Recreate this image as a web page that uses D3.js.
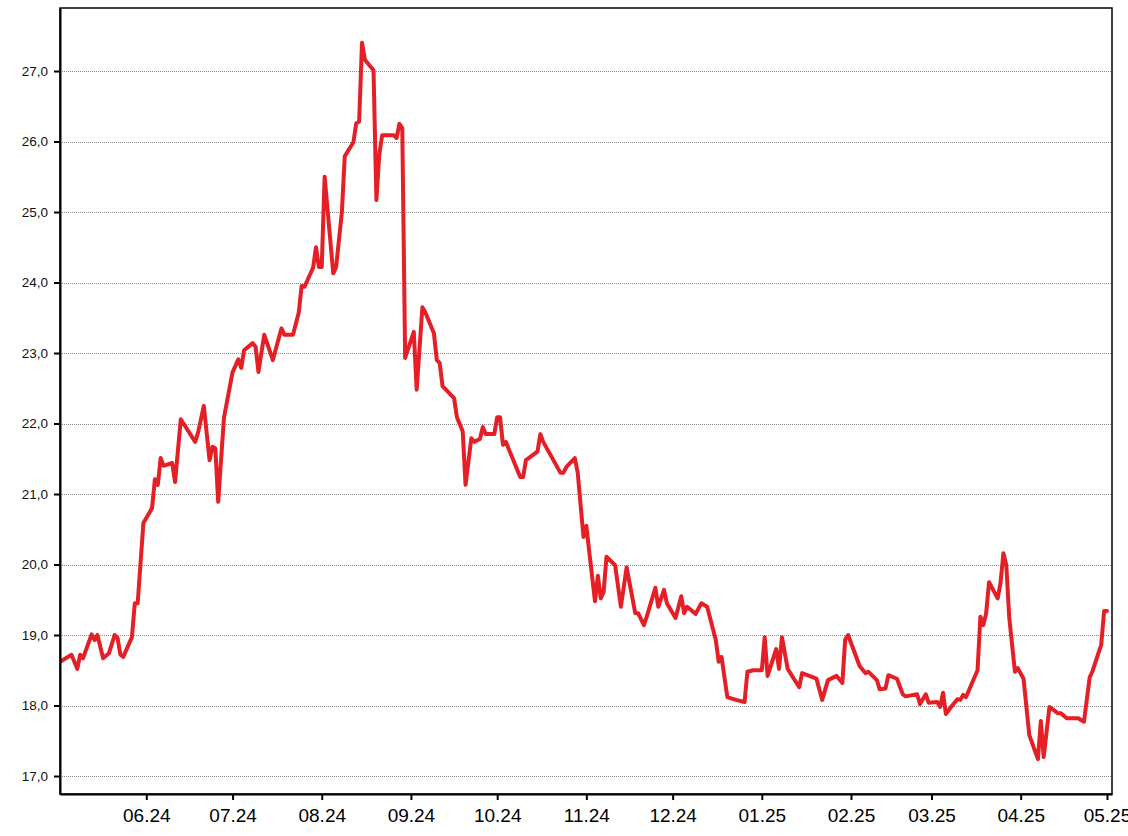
<!DOCTYPE html>
<html>
<head>
<meta charset="utf-8">
<script src="https://cdn.jsdelivr.net/npm/d3@7"></script>
<style>
  html, body { margin: 0; padding: 0; background: #fff; }
  svg { display: block; }
</style>
</head>
<body>
<svg id="chart" width="1128" height="836"></svg>
<script>
// ---- DATA ----
const dates = [
"2024-05-02","2024-05-06","2024-05-08","2024-05-09","2024-05-10","2024-05-13","2024-05-14","2024-05-15","2024-05-17","2024-05-19",
"2024-05-21","2024-05-22","2024-05-23","2024-05-24","2024-05-27","2024-05-28","2024-05-29","2024-05-31","2024-06-03","2024-06-04",
"2024-06-05","2024-06-06","2024-06-07","2024-06-10","2024-06-11","2024-06-13","2024-06-18","2024-06-19","2024-06-21","2024-06-23",
"2024-06-24","2024-06-25","2024-06-26","2024-06-28","2024-07-01","2024-07-03","2024-07-04","2024-07-05","2024-07-08","2024-07-09",
"2024-07-10","2024-07-12","2024-07-15","2024-07-18","2024-07-19","2024-07-22","2024-07-24","2024-07-25","2024-07-26","2024-07-29",
"2024-07-30","2024-07-31","2024-08-01","2024-08-02","2024-08-05","2024-08-06","2024-08-08","2024-08-09","2024-08-12","2024-08-13",
"2024-08-14","2024-08-15","2024-08-16","2024-08-19","2024-08-20","2024-08-21","2024-08-22","2024-08-26","2024-08-27","2024-08-28",
"2024-08-29","2024-08-30","2024-09-02","2024-09-03","2024-09-05","2024-09-06","2024-09-09","2024-09-10","2024-09-11","2024-09-12",
"2024-09-16","2024-09-17","2024-09-19","2024-09-20","2024-09-22","2024-09-23","2024-09-25","2024-09-26","2024-09-27","2024-09-30",
"2024-10-01","2024-10-02","2024-10-03","2024-10-04","2024-10-09","2024-10-10","2024-10-11","2024-10-13","2024-10-15","2024-10-16",
"2024-10-17","2024-10-20","2024-10-23","2024-10-24","2024-10-25","2024-10-28","2024-10-29","2024-10-31","2024-11-01","2024-11-02",
"2024-11-04","2024-11-05","2024-11-06","2024-11-07","2024-11-08","2024-11-11","2024-11-13","2024-11-15","2024-11-18","2024-11-19",
"2024-11-21","2024-11-22","2024-11-25","2024-11-26","2024-11-28","2024-11-29","2024-12-02","2024-12-04","2024-12-05","2024-12-06",
"2024-12-09","2024-12-11","2024-12-13","2024-12-16","2024-12-17","2024-12-18","2024-12-20","2024-12-23","2024-12-26","2024-12-27",
"2024-12-29","2025-01-01","2025-01-02","2025-01-03","2025-01-06","2025-01-07","2025-01-08","2025-01-10","2025-01-14","2025-01-15",
"2025-01-20","2025-01-22","2025-01-24","2025-01-27","2025-01-29","2025-01-30","2025-01-31","2025-02-04","2025-02-06","2025-02-07",
"2025-02-10","2025-02-11","2025-02-13","2025-02-14","2025-02-17","2025-02-19","2025-02-20","2025-02-24","2025-02-25","2025-02-27",
"2025-02-28","2025-03-03","2025-03-04","2025-03-05","2025-03-06","2025-03-08","2025-03-10","2025-03-11","2025-03-12","2025-03-13",
"2025-03-17","2025-03-18","2025-03-19","2025-03-20","2025-03-21","2025-03-24","2025-03-25","2025-03-26","2025-03-27","2025-03-28",
"2025-03-30","2025-03-31","2025-04-02","2025-04-04","2025-04-07","2025-04-08","2025-04-09","2025-04-11","2025-04-14","2025-04-15",
"2025-04-17","2025-04-21","2025-04-23","2025-04-25","2025-04-26","2025-04-28","2025-04-29","2025-04-30","2025-05-01"
];
const values = [
18.62,18.72,18.52,18.72,18.67,19.01,18.93,19.00,18.67,18.74,
19.00,18.96,18.72,18.69,18.97,19.45,19.45,20.59,20.80,21.21,
21.13,21.51,21.40,21.44,21.17,22.06,21.74,21.87,22.25,21.48,
21.67,21.65,20.89,22.08,22.73,22.91,22.79,23.04,23.14,23.09,
22.73,23.26,22.90,23.35,23.26,23.26,23.57,23.95,23.94,24.21,
24.50,24.22,24.22,25.50,24.13,24.22,25.00,25.79,25.99,26.26,
26.28,27.40,27.16,27.01,25.17,25.81,26.09,26.09,26.05,26.25,
26.19,22.93,23.30,22.48,23.65,23.58,23.28,22.90,22.86,22.53,
22.36,22.09,21.89,21.13,21.79,21.74,21.78,21.95,21.85,21.85,
22.09,22.09,21.70,21.74,21.24,21.24,21.48,21.54,21.60,21.85,
21.74,21.52,21.30,21.30,21.38,21.51,21.30,20.39,20.55,20.18,
19.48,19.84,19.52,19.61,20.11,19.99,19.40,19.96,19.31,19.31,
19.14,19.26,19.67,19.40,19.64,19.45,19.24,19.55,19.31,19.40,
19.30,19.45,19.40,18.93,18.62,18.69,18.12,18.08,18.05,18.48,
18.50,18.50,18.97,18.42,18.80,18.52,18.97,18.52,18.26,18.46,
18.38,18.08,18.36,18.42,18.32,18.94,19.00,18.56,18.46,18.48,
18.36,18.23,18.24,18.43,18.38,18.16,18.13,18.16,18.02,18.16,
18.04,18.05,17.98,18.18,17.88,17.99,18.09,18.08,18.15,18.12,
18.50,19.26,19.14,19.31,19.75,19.52,19.74,20.16,19.99,19.26,
18.48,18.53,18.38,17.58,17.24,17.78,17.27,17.98,17.89,17.89,
17.82,17.82,17.77,18.40,18.49,18.74,18.86,19.34,19.34
];
const yTicks = [17,18,19,20,21,22,23,24,25,26,27];
const xTickDates = ["2024-06-01","2024-07-01","2024-08-01","2024-09-01","2024-10-01","2024-11-01","2024-12-01",
                    "2025-01-01","2025-02-01","2025-03-01","2025-04-01","2025-05-01"];
const xDomain = ["2024-05-02T00:00:00Z","2025-05-02T18:00:00Z"];
const yDomain = [16.745, 27.894];

// ---- LAYOUT ----
const M = { left: 60, right: 1112, top: 8, bottom: 794 };
const parse = s => new Date(s.length > 10 ? s : s + "T00:00:00Z");
const data = dates.map((d, i) => ({ date: parse(d), value: values[i] }));

const svg = d3.select("#chart");
const x = d3.scaleUtc().domain(xDomain.map(parse)).range([M.left, M.right]);
const y = d3.scaleLinear().domain(yDomain).range([M.bottom, M.top]);

const fmtLocale = d3.formatLocale({ decimal: ",", thousands: ".", grouping: [3], currency: ["", "€"] });
const yFmt = fmtLocale.format(".1f");
const xFmt = d3.utcFormat("%m.%y");

// grid
svg.append("g").selectAll("line").data(yTicks).join("line")
  .attr("x1", M.left).attr("x2", M.right)
  .attr("y1", d => Math.round(y(d)) + 0.5).attr("y2", d => Math.round(y(d)) + 0.5)
  .attr("stroke", "#8a8a8a").attr("stroke-width", 1).attr("stroke-dasharray", "1,1");

// clip
svg.append("defs").append("clipPath").attr("id", "clip")
  .append("rect").attr("x", M.left).attr("y", M.top).attr("width", M.right - M.left).attr("height", M.bottom - M.top);

// line
const line = d3.line().x(d => x(d.date)).y(d => y(d.value));
svg.append("path").datum(data)
  .attr("clip-path", "url(#clip)")
  .attr("fill", "none")
  .attr("stroke", "#e41f25")
  .attr("stroke-width", 4)
  .attr("stroke-linejoin", "round")
  .attr("stroke-linecap", "round")
  .attr("d", line);

// frame
svg.append("rect").attr("x", M.left).attr("y", M.top).attr("width", M.right - M.left).attr("height", M.bottom - M.top)
  .attr("fill", "none").attr("stroke", "#000").attr("stroke-width", 1.5);

// y axis
const yAxis = d3.axisLeft(y).tickValues(yTicks).tickFormat(yFmt).tickSizeInner(6).tickSizeOuter(0).tickPadding(6);
const gy = svg.append("g").attr("transform", `translate(${M.left},0)`).call(yAxis);
gy.select(".domain").attr("stroke", "#000").attr("stroke-width", 2);
gy.selectAll(".tick line").attr("stroke", "#000").attr("stroke-width", 2);
gy.selectAll(".tick text").attr("fill", "#111")
  .style("font-family", "'Liberation Sans', Arial, sans-serif").style("font-size", "13.5px");

// x axis
const xAxis = d3.axisBottom(x).tickValues(xTickDates.map(parse)).tickFormat(xFmt).tickSizeInner(6).tickSizeOuter(0).tickPadding(9);
const gx = svg.append("g").attr("transform", `translate(0,${M.bottom})`).call(xAxis);
gx.select(".domain").attr("stroke", "#000").attr("stroke-width", 2);
gx.selectAll(".tick line").attr("stroke", "#000").attr("stroke-width", 2);
gx.selectAll(".tick text").attr("fill", "#000")
  .style("font-family", "'Liberation Sans', Arial, sans-serif").style("font-size", "19px");
</script>
</body>
</html>
